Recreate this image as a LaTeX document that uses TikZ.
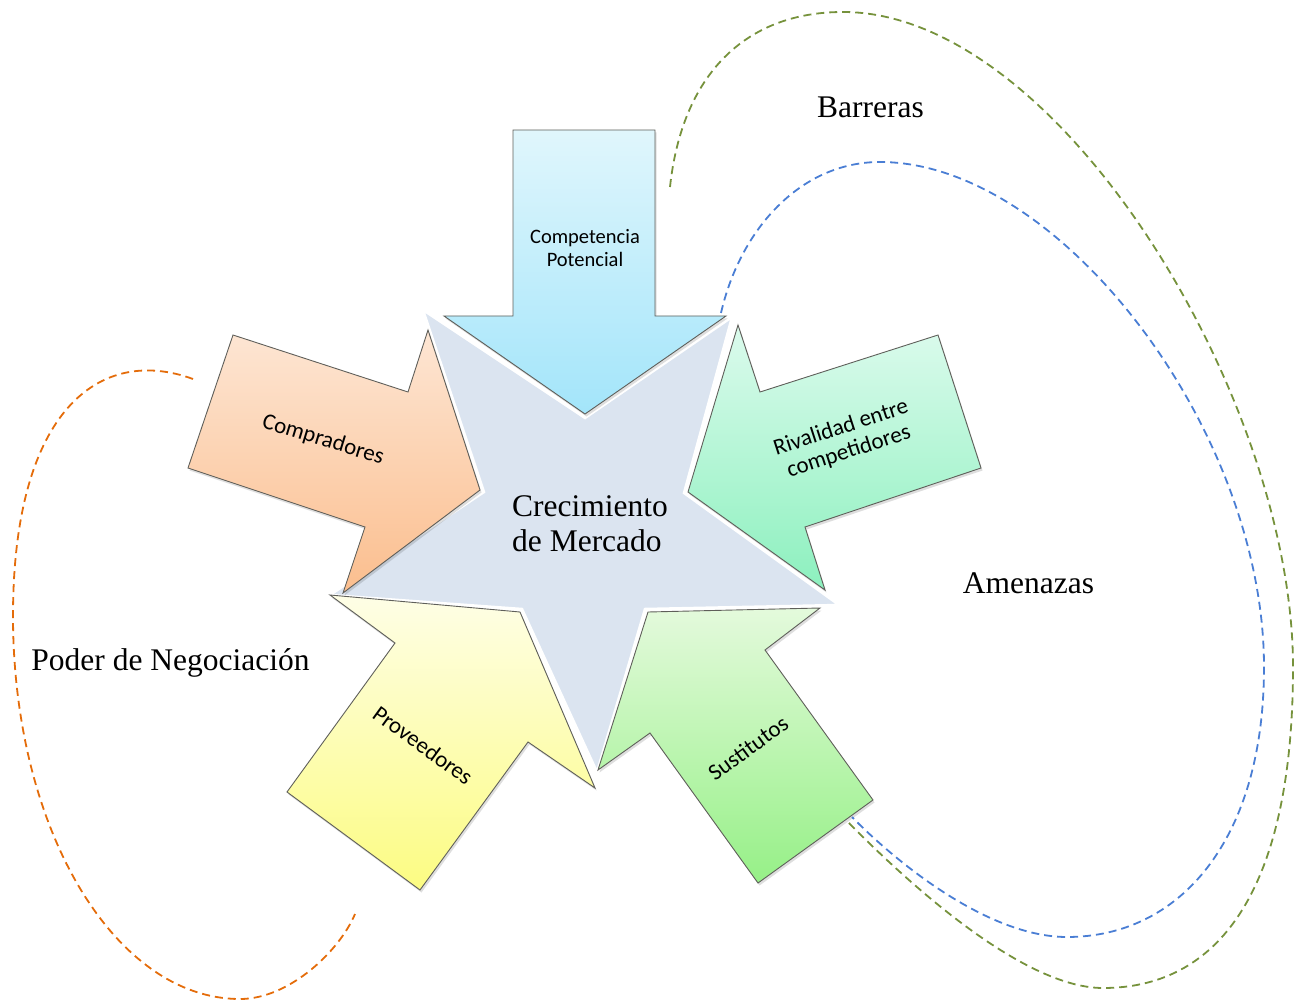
\documentclass[tikz,border=0pt]{standalone}
\usepackage{fontspec}
\setmainfont{Liberation Serif}
\newfontfamily\calib{Carlito}
\definecolor{starfill}{RGB}{219,228,240}
\definecolor{compTop}{RGB}{224,246,252}
\definecolor{compBot}{RGB}{163,229,250}
\definecolor{cmprTop}{RGB}{253,230,212}
\definecolor{cmprBot}{RGB}{251,190,142}
\definecolor{rivTop}{RGB}{220,251,237}
\definecolor{rivBot}{RGB}{140,240,190}
\definecolor{susTop}{RGB}{228,250,220}
\definecolor{susBot}{RGB}{150,240,135}
\definecolor{provTop}{RGB}{254,254,230}
\definecolor{provBot}{RGB}{252,252,130}
\definecolor{edgec}{RGB}{95,95,90}
\definecolor{orangeD}{RGB}{228,108,10}
\definecolor{greenD}{RGB}{118,146,60}
\definecolor{blueD}{RGB}{74,126,212}
\begin{document}
\begin{tikzpicture}[x=1pt,y=-1pt,
  arrowshape/.style={draw=edgec, line width=0.9pt, line join=miter},
  shadowed/.style={preaction={fill=black, opacity=0.13, transform canvas={shift={(1.5pt,-2.5pt)}}}},
  starshape/.style={fill=starfill, draw=white, line width=2.5pt, line join=miter},
  lbl/.style={font=\calib\fontsize{23}{25}\selectfont, align=center, text=black, inner sep=0pt},
  big/.style={font=\fontsize{31.5}{35}\selectfont, text=black, inner sep=0pt},
  dashcurve/.style={line width=1.8pt, dash pattern=on 8pt off 5pt}]
\useasboundingbox (0,0) rectangle (1301,1000);

% central star
\path[starshape] (423,310) -- (585,418) -- (732,317) -- (684,493) -- (839,605)
  -- (645,609) -- (597,772) -- (522,609) -- (330,595) -- (484,492) -- cycle;

% Competencia Potencial (top)
\path[arrowshape, shadowed, top color=compTop, bottom color=compBot]
  (513,130) -- (655,130) -- (655,316) -- (726,316) -- (585,414) -- (444,316) -- (513,316) -- cycle;
% Compradores
\path[arrowshape, shadowed, top color=cmprTop, bottom color=cmprBot]
  (233,335) -- (408,392) -- (428,330) -- (480,490) -- (343,593) -- (365,527) -- (188,468) -- cycle;
% Rivalidad
\path[arrowshape, shadowed, top color=rivTop, bottom color=rivBot]
  (738,325) -- (760,392) -- (938,335) -- (981,468) -- (805,527) -- (825,590) -- (688,492) -- cycle;
% Sustitutos
\path[arrowshape, shadowed, top color=susTop, bottom color=susBot]
  (648,612) -- (820,608) -- (765,650) -- (873,800) -- (758,883) -- (650,733) -- (598,770) -- cycle;
% Proveedores
\path[arrowshape, shadowed, top color=provTop, bottom color=provBot]
  (330,595) -- (520,612) -- (595,788) -- (528,742) -- (420,890) -- (287,792) -- (395,643) -- cycle;

% labels in arrows
\node[lbl, font=\calib\fontsize{20.5}{23}\selectfont] (tcomp) at (585,248) {Competencia\\Potencial};
\node[lbl, rotate=-17] (tcmpr) at (323,440) {Compradores};
\node[lbl, rotate=18] (triv) at (845,440) {Rivalidad entre\\competidores};
\node[lbl, rotate=36] (tsus) at (748,748) {Sustitutos};
\node[lbl, rotate=-36] (tprov) at (423,745) {Proveedores};

% center text
\node[big, align=left] (tcen) at (590,524) {Crecimiento\\de Mercado};

% outer labels
\node[big, anchor=base] (tbar) at (870.5,118) {Barreras};
\node[big, anchor=base] (tame) at (1028.5,593) {Amenazas};
\node[big, anchor=base] (tpod) at (170.5,670) {Poder de Negociación};

% dashed brackets
\coordinate (o0) at (193,379);
\coordinate (o3) at (355,914);
\draw[dashcurve, orangeD] (o0)
  .. controls (100,345) and (13,410) .. (13,616)
  .. controls (13,830) and (115,999) .. (240,999)
  .. controls (290,999) and (340,950) .. (o3);

\coordinate (g0) at (670,187);
\coordinate (g5) at (848,822);
\draw[dashcurve, greenD] (g0)
  .. controls (682,75) and (745,12) .. (843,12)
  .. controls (1060,12) and (1293,400) .. (1293,667)
  .. controls (1293,880) and (1225,988) .. (1103,988)
  .. controls (1020,988) and (900,875) .. (g5);

\coordinate (b0) at (721,313);
\coordinate (b5) at (852,817);
\draw[dashcurve, blueD] (b0)
  .. controls (740,230) and (800,162) .. (880,162)
  .. controls (1060,162) and (1264,430) .. (1264,667)
  .. controls (1264,840) and (1180,937) .. (1067,937)
  .. controls (990,937) and (900,866) .. (b5);
\end{tikzpicture}
\end{document}
